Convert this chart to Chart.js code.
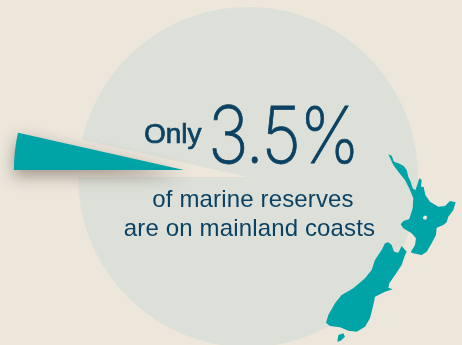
<!DOCTYPE html>
<html>
<head>
<meta charset="utf-8">
<script src="https://cdn.jsdelivr.net/npm/chart.js@4"></script>
<style>
  html, body { margin: 0; padding: 0; background: #ece6db; overflow: hidden; }
  canvas { display: block; }
</style>
</head>
<body>
<canvas id="reserves" width="462" height="345"></canvas>
<script>
const categories = ["Mainland coast reserves", "Other reserves"];
const shares = [3.5, 96.5];
const headline = "3.5%";
const lead = "Only";
const captionLines = ["of marine reserves", "are on mainland coasts"];

const TEAL = "#00a3a6";
const DISC = "#dce0d8";
const INK = "#0b4263";
const LIFT = 64.5; // how far the small slice is pulled out of the disc

// New Zealand outlines at 3x, each island with its own origin
const northIsland = new Path2D("M25 28 L35 32 L42 50 L55 55 L70 62 L80 75 L85 95 L92 110 L98 130 L106 136 L111 122 L118 100 L125 105 L123 125 L131 126 L136 150 L150 170 L175 185 L195 183 L210 168 L227 172 L220 195 L205 215 L200 232 L190 240 L170 248 L168 270 L155 295 L140 320 L125 330 L100 325 L92 322 L105 300 L108 280 L95 265 L70 250 L62 238 L70 228 L88 222 L98 190 L100 160 L90 135 L75 105 L55 80 L40 60 Z M129 216 L136 211 L142 216 L138 224 L130 223 Z");
const southIsland = new Path2D("M205 7 L215 15 L222 35 L235 38 L245 18 L260 35 L255 45 L245 75 L225 105 L208 130 L205 143 L218 148 L195 155 L165 170 L160 195 L150 235 L135 260 L110 275 L85 272 L60 262 L30 258 L18 248 L25 225 L45 190 L65 165 L100 145 L135 115 L155 90 L165 60 L185 30 L195 10 Z M55 285 L70 280 L75 290 L62 302 L52 305 Z");

function drawIsland(ctx, outline, ox, oy) {
  ctx.save();
  ctx.translate(ox, oy);
  ctx.scale(1 / 3, 1 / 3);
  ctx.fill(outline, "evenodd");
  ctx.restore();
}

const artwork = {
  id: "artwork",
  afterDatasetsDraw(chart) {
    const ctx = chart.ctx;

    // arc offset also grows the radius, so the lifted slice is painted here from its own geometry
    const slice = chart.getDatasetMeta(0).data[0];
    const { x, y, startAngle, endAngle, outerRadius } = slice.getProps(["x", "y", "startAngle", "endAngle", "outerRadius"]);
    const mid = (startAngle + endAngle) / 2;
    ctx.save();
    ctx.translate(Math.cos(mid) * LIFT, Math.sin(mid) * LIFT);
    ctx.shadowColor = "rgba(70,50,40,0.45)";
    ctx.shadowBlur = 16;
    ctx.shadowOffsetY = 6;
    ctx.fillStyle = TEAL;
    ctx.beginPath();
    ctx.moveTo(x, y);
    ctx.arc(x, y, outerRadius, startAngle, endAngle);
    ctx.closePath();
    ctx.fill();
    ctx.restore();

    ctx.fillStyle = TEAL;
    drawIsland(ctx, northIsland, 380, 145);
    drawIsland(ctx, southIsland, 320, 240);

    ctx.save();
    ctx.fillStyle = INK;
    ctx.strokeStyle = INK;
    ctx.textBaseline = "alphabetic";
    ctx.textAlign = "left";

    ctx.font = "28px 'Liberation Sans'";
    ctx.lineWidth = 0.7;
    ctx.fillText(lead, 144, 143);
    ctx.strokeText(lead, 144, 143);

    ctx.save();
    ctx.translate(208, 163);
    ctx.scale(0.865, 1);
    ctx.font = "200 79px Inter";
    ctx.letterSpacing = "-2px";
    ctx.lineWidth = 0.8;
    ctx.fillText(headline, 0, 0);
    ctx.strokeText(headline, 0, 0);
    ctx.restore();

    ctx.font = "24px 'Liberation Sans'";
    ctx.letterSpacing = "0.15px";
    ctx.textAlign = "center";
    ctx.fillText(captionLines[0], 253, 207);
    ctx.fillText(captionLines[1], 249.5, 236);
    ctx.restore();
  }
};

new Chart(document.getElementById("reserves"), {
  type: "pie",
  data: {
    labels: categories,
    datasets: [{
      data: shares,
      backgroundColor: ["transparent", DISC],
      borderWidth: 0,
      radius: 170,
      clip: false
    }]
  },
  options: {
    responsive: false,
    animation: false,
    rotation: 270,
    layout: { padding: { left: 34, top: 9 } },
    plugins: { legend: { display: false }, tooltip: { enabled: false } }
  },
  plugins: [artwork]
});
</script>
</body>
</html>
